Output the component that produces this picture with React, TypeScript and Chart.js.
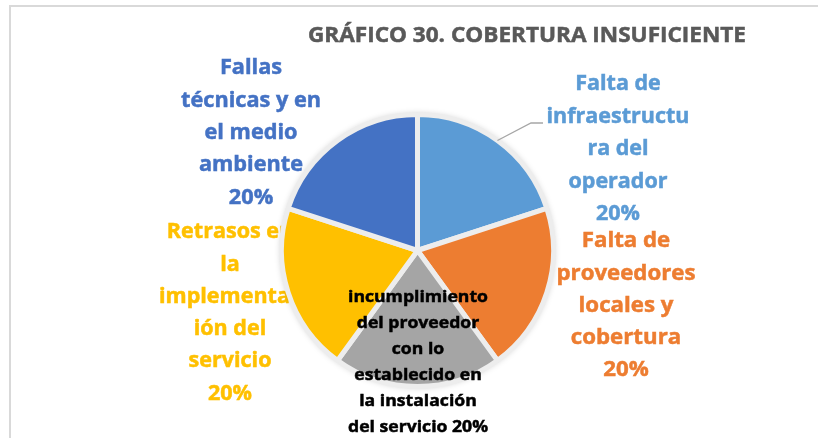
import React, { useEffect, useRef } from "react";
import { Chart, registerables } from "chart.js";

Chart.register(...registerables);

const title = "GRÁFICO 30. COBERTURA INSUFICIENTE";
const categories = [
  "Falta de infraestructura del operador",
  "Falta de proveedores locales y cobertura",
  "incumplimiento del proveedor con lo establecido en la instalación del servicio",
  "Retrasos en la implementación del servicio",
  "Fallas técnicas y en el medio ambiente",
];
const values = [20, 20, 20, 20, 20];
const colors = ["#5B9BD5", "#ED7D31", "#A5A5A5", "#FFC000", "#4472C4"];
const textColors = ["#5B9BD5", "#ED7D31", "#000000", "#FFC000", "#4472C4"];
// label text broken into lines, as in the source (percentage appended)
const labelLines = [
  ["Falta de", "infraestructu", "ra del", "operador"],
  ["Falta de", "proveedores", "locales y", "cobertura"],
  ["incumplimiento", "del proveedor", "con lo", "establecido en", "la instalación", "del servicio"],
  ["Retrasos en", "la", "implementac", "ión del", "servicio"],
  ["Fallas", "técnicas y en", "el medio", "ambiente"],
];

// layout of label blocks (centre x, first line y, line step, font px, widest-line width, underPie)
const labelLayout = [
  { x: 618, y: 84, step: 32.5, size: 22, ref: "infraestructu", refW: 143, under: false, pctInline: false },
  { x: 626, y: 241, step: 32.3, size: 22, ref: "proveedores", refW: 139, under: false, pctInline: false },
  { x: 418, y: 297, step: 26, size: 16.5, ref: "incumplimiento", refW: 140, under: false, pctInline: true },
  { x: 230, y: 232, step: 32.3, size: 22, ref: "servicio", refW: 83, under: true, pctInline: false },
  { x: 251, y: 68, step: 32.4, size: 22, ref: "técnicas y en", refW: 140, under: false, pctInline: false },
];

const FONT = "'Open Sans', 'Noto Sans', sans-serif";

function drawBlock(ctx: CanvasRenderingContext2D, i: number, total: number) {
  const L = labelLayout[i];
  const pct = Math.round((values[i] / total) * 100) + "%";
  const lines = labelLines[i].slice();
  if (L.pctInline) lines[lines.length - 1] = lines[lines.length - 1] + " " + pct;
  else lines.push(pct);
  ctx.save();
  ctx.font = `bold ${L.size}px ${FONT}`;
  ctx.fillStyle = textColors[i];
  ctx.strokeStyle = textColors[i];
  ctx.lineWidth = 0.5;
  ctx.textAlign = "center";
  ctx.textBaseline = "middle";
  const sx = L.refW / ctx.measureText(L.ref).width;
  lines.forEach((ln, k) => {
    ctx.save();
    ctx.translate(L.x, L.y + k * L.step);
    ctx.scale(sx, 1);
    ctx.fillText(ln, 0, 0);
    ctx.strokeText(ln, 0, 0);
    ctx.restore();
  });
  ctx.restore();
}

const decorPlugin = {
  id: "decor",
  beforeDatasetsDraw(chart: any) {
    const ctx = chart.ctx as CanvasRenderingContext2D;
    const total = values.reduce((a, b) => a + b, 0);
    labelLayout.forEach((L, i) => {
      if (L.under) drawBlock(ctx, i, total);
    });
    const arc = chart.getDatasetMeta(0).data[0];
    if (arc) {
      ctx.save();
      ctx.shadowColor = "rgba(0,0,0,0.28)";
      ctx.shadowBlur = 7;
      ctx.beginPath();
      ctx.arc(arc.x, arc.y, arc.outerRadius, 0, Math.PI * 2);
      ctx.fillStyle = "#ECECEC";
      ctx.fill();
      ctx.restore();
    }
  },
  afterDatasetsDraw(chart: any) {
    const ctx = chart.ctx as CanvasRenderingContext2D;
    const total = values.reduce((a, b) => a + b, 0);
    labelLayout.forEach((L, i) => {
      if (!L.under) drawBlock(ctx, i, total);
    });
    // leader line for first slice
    const arc = chart.getDatasetMeta(0).data[0];
    if (arc) {
      const mid = (arc.startAngle + arc.endAngle) / 2;
      const px = arc.x + Math.cos(mid) * arc.outerRadius;
      const py = arc.y + Math.sin(mid) * arc.outerRadius;
      ctx.save();
      ctx.strokeStyle = "#A6A6A6";
      ctx.lineWidth = 1.3;
      ctx.beginPath();
      ctx.moveTo(px, py);
      ctx.lineTo(531, 123);
      ctx.lineTo(543, 123);
      ctx.stroke();
      ctx.restore();
    }
    // title
    ctx.save();
    ctx.font = `bold 21px ${FONT}`;
    ctx.fillStyle = "#595959";
    ctx.strokeStyle = "#595959";
    ctx.lineWidth = 0.5;
    ctx.textAlign = "center";
    ctx.textBaseline = "middle";
    const sx = 438 / ctx.measureText(title).width;
    ctx.translate(527, 36);
    ctx.scale(sx, 1);
    ctx.fillText(title, 0, 0);
    ctx.strokeText(title, 0, 0);
    ctx.restore();
    // frame
    ctx.save();
    ctx.strokeStyle = "#D9D9D9";
    ctx.lineWidth = 2;
    ctx.beginPath();
    ctx.moveTo(10, 438);
    ctx.lineTo(10, 6);
    ctx.lineTo(818, 6);
    ctx.stroke();
    ctx.restore();
  },
};

export default function App() {
  const ref = useRef<HTMLCanvasElement | null>(null);
  useEffect(() => {
    document.body.style.margin = "0";
    const canvas = ref.current;
    if (!canvas) return;
    const chart = new Chart(canvas, {
      type: "pie",
      data: {
        labels: categories,
        datasets: [
          {
            data: values,
            backgroundColor: colors,
            borderColor: "#EDEDED",
            borderWidth: 5,
          },
        ],
      },
      options: {
        responsive: false,
        animation: false,
        layout: { padding: { left: 279, right: 262, top: 112, bottom: 49 } },
        plugins: {
          legend: { display: false },
          title: { display: false },
          tooltip: { enabled: false },
        },
      },
      plugins: [decorPlugin],
    });
    return () => chart.destroy();
  }, []);
  return (
    <div style={{ width: 818, height: 438, background: "#fff" }}>
      <canvas ref={ref} width={818} height={438} style={{ display: "block" }} />
    </div>
  );
}
